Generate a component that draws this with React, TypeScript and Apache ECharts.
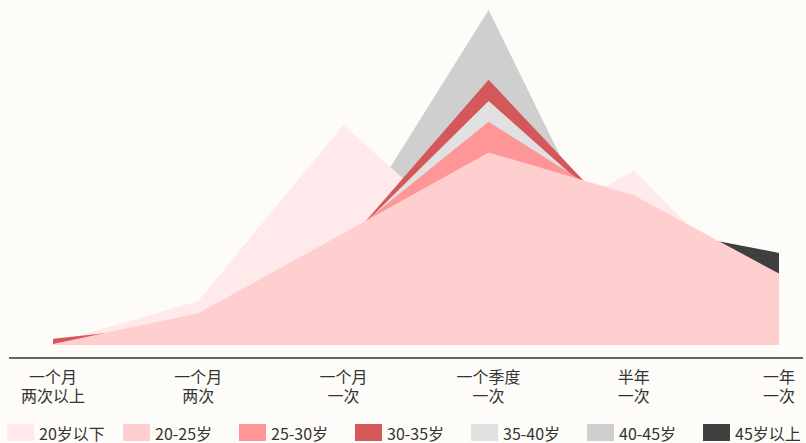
import React, { useEffect, useRef } from "react";
import * as echarts from "echarts";

const categories = [
  "一个月\n两次以上",
  "一个月\n两次",
  "一个月\n一次",
  "一个季度\n一次",
  "半年\n一次",
  "一年\n一次",
];

const legendNames = ["20岁以下", "20-25岁", "25-30岁", "30-35岁", "35-40岁", "40-45岁", "45岁以上"];

const under20 = [0.3, 7.9, 39.4, 16.1, 31.3, 5.0];
const age20to25 = [0.2, 5.7, 20.0, 34.5, 26.8, 12.8];
const age25to30 = [0, 5.0, 19.0, 40.0, 23.5, 12.5];
const age30to35 = [1.1, 3.9, 17.6, 47.5, 19.9, 10.0];
const age35to40 = [0, 5.0, 18.0, 43.7, 20.6, 12.7];
const age40to45 = [0, 5.0, 18.4, 60.0, 7.0, 9.6];
const over45 = [0, 5.0, 22.0, 34.0, 21.5, 16.5];

const colors: Record<string, string> = {
  "20岁以下": "#ffe9ea",
  "20-25岁": "#ffcfd0",
  "25-30岁": "#fe9596",
  "30-35岁": "#d4585a",
  "35-40岁": "#e1e1e1",
  "40-45岁": "#cfcfcf",
  "45岁以上": "#3f3f3f",
};

// drawing order, bottom to top
const drawOrder: [string, number[]][] = [
  ["45岁以上", over45],
  ["40-45岁", age40to45],
  ["20岁以下", under20],
  ["30-35岁", age30to35],
  ["35-40岁", age35to40],
  ["25-30岁", age25to30],
  ["20-25岁", age20to25],
];

const FONT = "'Noto Sans CJK SC', 'Noto Sans', sans-serif";

export default function App() {
  const ref = useRef<HTMLDivElement>(null);
  useEffect(() => {
    document.body.style.margin = "0";
    const chart = echarts.init(ref.current!, undefined, { renderer: "svg" });
    chart.setOption({
      animation: false,
      backgroundColor: "#fdfcf8",
      grid: { left: 53, right: 27, top: 10, bottom: 98 },
      xAxis: {
        type: "category",
        data: categories,
        boundaryGap: false,
        axisLine: { show: false },
        axisTick: { show: false },
        splitLine: { show: false },
        axisLabel: {
          margin: 21,
          fontSize: 16,
          lineHeight: 19,
          color: "#333",
          fontFamily: FONT,
          interval: 0,
        },
      },
      yAxis: {
        type: "value",
        min: 0,
        max: 60,
        show: false,
        splitLine: { show: false },
      },
      legend: {
        data: legendNames,
        left: 7,
        top: 424,
        width: 799,
        padding: 0,
        icon: "rect",
        itemWidth: 27,
        itemHeight: 17,
        itemGap: 14,
        textStyle: {
          fontSize: 16,
          color: "#333",
          fontFamily: FONT,
          width: 70,
          lineHeight: 17,
        },
      },
      graphic: [
        {
          type: "line",
          shape: { x1: 9, y1: 358, x2: 803, y2: 358 },
          style: { stroke: "#333", lineWidth: 1.6 },
          silent: true,
        },
      ],
      series: drawOrder.map(([name, values]) => ({
        name,
        type: "line",
        data: values,
        showSymbol: false,
        symbol: "none",
        lineStyle: { width: 0, color: colors[name] },
        itemStyle: { color: colors[name] },
        areaStyle: { color: colors[name], opacity: 1 },
        emphasis: { disabled: true },
      })),
    });
    return () => chart.dispose();
  }, []);
  return (
    <div
      ref={ref}
      style={{ position: "fixed", left: 0, top: 0, width: 806, height: 443 }}
    />
  );
}
